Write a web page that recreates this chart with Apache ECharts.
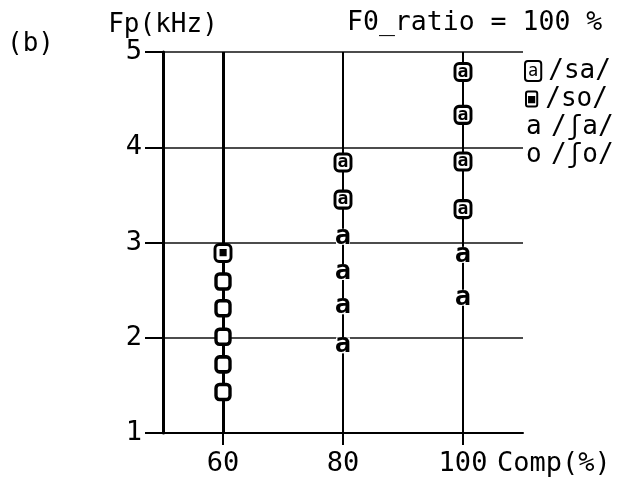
<!DOCTYPE html>
<html><head><meta charset="utf-8">
<script src="https://cdn.jsdelivr.net/npm/echarts@6/dist/echarts.min.js"></script>
<style>html,body{margin:0;padding:0;background:#fff}#c{width:617px;height:481px}</style>
</head><body><div id="c"></div>
<script>
const FONT = 'DejaVu Sans Mono';
const titleText = 'F0_ratio = 100 %';
const panelLabel = '(b)';
const yName = 'Fp(kHz)';
const xName = 'Comp(%)';
const xTicks = [60, 80, 100];
const names = ['/sa/', '/so/', '/ʃa/', '/ʃo/'];
const saX = [80, 80, 100, 100, 100, 100];
const saY = [3.84, 3.45, 4.79, 4.34, 3.85, 3.35];
const soX = [60];
const soY = [2.89];
const shaX = [80, 80, 80, 80, 100, 100];
const shaY = [3.06, 2.69, 2.33, 1.92, 2.87, 2.42];
const shoX = [60, 60, 60, 60, 60];
const shoY = [2.59, 2.31, 2.01, 1.72, 1.43];

const pairs = (xs, ys) => xs.map((x, i) => [x, ys[i]]);
const chart = echarts.init(document.getElementById('c'), null, {renderer: 'canvas'});
const lbl = (txt, size, w) => ({show: true, position: 'inside', formatter: txt, fontFamily: FONT, fontSize: size, fontWeight: w || 'normal', color: '#000'});

const legendIcon = {
  '/sa/': '{sa|a}',
  '/so/': '{so|■}',
  '/ʃa/': '{pa|a}',
  '/ʃo/': '{pa|o}'
};

chart.setOption({
  animation: false,
  backgroundColor: '#fff',
  title: {text: titleText, left: 342, top: 5,
    textStyle: {fontFamily: FONT, fontSize: 26.5, fontWeight: 'normal', color: '#000'}},
  grid: {left: 163, right: 94, top: 52, bottom: 48},
  legend: {
    orient: 'vertical', left: 514, top: 53, itemGap: 2,
    icon: 'rect', itemWidth: 1, itemHeight: 1, itemStyle: {opacity: 0},
    selectedMode: false,
    data: names,
    formatter: n => legendIcon[n] + '{t|' + n + '}',
    textStyle: {
      fontFamily: FONT, fontSize: 26, color: '#000',
      rich: {
        sa: {fontFamily: FONT, fontSize: 17, color: '#000', borderColor: '#000', borderWidth: 2, borderRadius: 2, padding: [1, 2, 0, 2], lineHeight: 16, backgroundColor: '#fff'},
        so: {fontFamily: FONT, fontSize: 12, color: '#000', borderColor: '#000', borderWidth: 2, borderRadius: 2, padding: [2, 2, 1, 2], lineHeight: 12},
        pa: {fontFamily: FONT, fontSize: 26, color: '#000', width: 17, lineHeight: 24},
        t: {fontFamily: FONT, fontSize: 26, color: '#000', padding: [0, 0, 0, 8], lineHeight: 24}
      }
    }
  },
  graphic: [
    {type: 'text', left: 7, top: 31, style: {text: panelLabel, font: '26px "' + FONT + '"', fill: '#000'}},
    {type: 'text', left: 497, top: 450, style: {text: xName, font: '27px "' + FONT + '"', fill: '#000'}}
  ],
  xAxis: {
    type: 'value', min: 50, max: 110,
    axisLine: {show: true, onZero: false, lineStyle: {color: '#000', width: 2}},
    axisTick: {show: true, customValues: xTicks, length: 12, lineStyle: {color: '#000', width: 2}},
    axisLabel: {customValues: xTicks, margin: 17, fontFamily: FONT, fontSize: 27, color: '#000'},
    splitLine: {show: false}
  },
  yAxis: {
    type: 'value', min: 1, max: 5, interval: 1,
    name: yName, nameLocation: 'end', nameGap: 13,
    nameTextStyle: {fontFamily: FONT, fontSize: 26, color: '#000', align: 'center'},
    axisLine: {show: true, onZero: false, lineStyle: {color: '#000', width: 3}},
    axisTick: {show: true, length: 18, lineStyle: {color: '#000', width: 2}},
    axisLabel: {margin: 21, fontFamily: FONT, fontSize: 27, color: '#000'},
    splitLine: {show: true, lineStyle: {color: '#111', width: 1.5}}
  },
  series: [
    {name: '/ʃo/', type: 'scatter', z: 10, data: pairs(shoX, shoY),
      symbol: 'roundRect', symbolSize: [14, 15],
      itemStyle: {color: '#fff', borderColor: '#000', borderWidth: 3.5, opacity: 1},
      markLine: {silent: true, z: 1, symbol: 'none', label: {show: false},
        lineStyle: {color: '#000', type: 'solid', width: 2},
        data: xTicks.map(v => ({xAxis: v, lineStyle: {width: v === 60 ? 3 : 2}}))}},
    {name: '/so/', type: 'scatter', z: 10, data: pairs(soX, soY),
      symbol: 'roundRect', symbolSize: [16, 17],
      itemStyle: {color: '#fff', borderColor: '#000', borderWidth: 3, opacity: 1},
      label: lbl('■', 12)},
    {name: '/sa/', type: 'scatter', z: 10, data: pairs(saX, saY),
      symbol: 'roundRect', symbolSize: [16, 17],
      itemStyle: {color: '#fff', borderColor: '#000', borderWidth: 3, opacity: 1},
      label: lbl('a', 18, 'bold')},
    {name: '/ʃa/', type: 'scatter', z: 10, data: pairs(shaX, shaY),
      symbol: 'rect', symbolSize: [14, 16],
      itemStyle: {color: '#fff', borderWidth: 0, opacity: 1},
      label: lbl('a', 27, 'bold')}
  ]
});
</script></body></html>
